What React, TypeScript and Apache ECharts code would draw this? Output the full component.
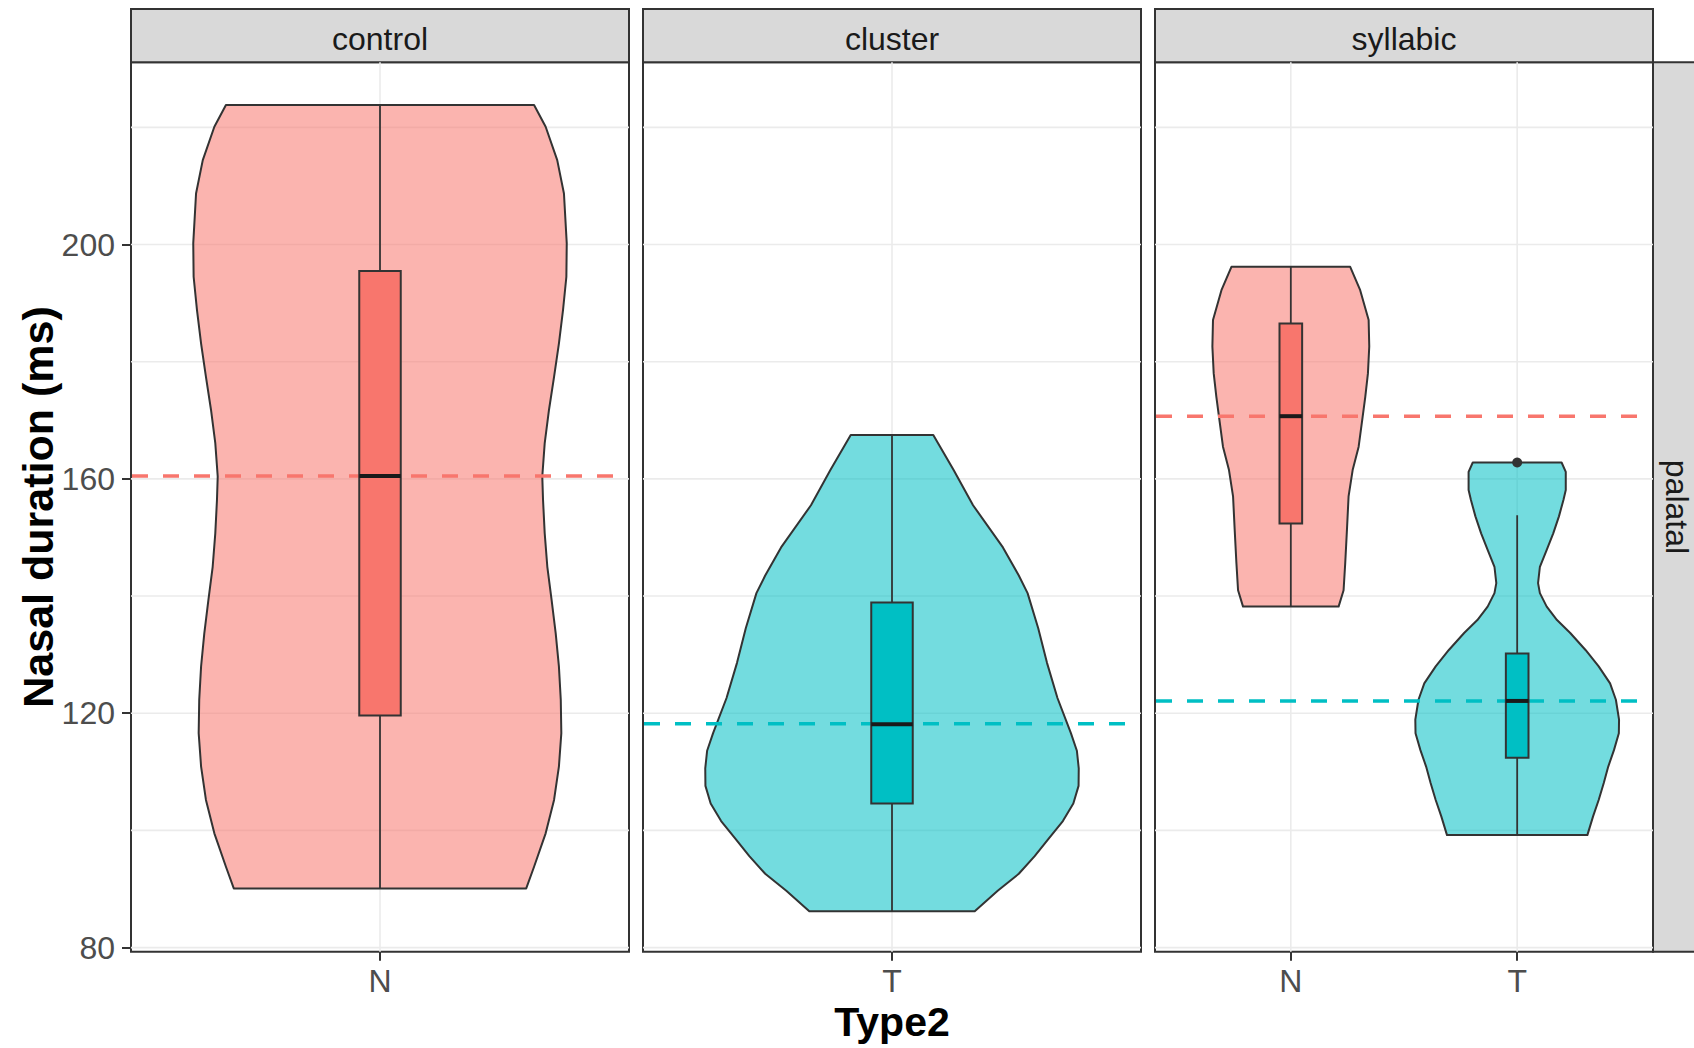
import React, { useEffect, useRef } from "react";
import * as echarts from "echarts";

// ---------- data ----------
const panelNames = ["control", "cluster", "syllabic"];
const rowName = "palatal";
const xTitle = "Type2";
const yTitle = "Nasal duration (ms)";
const yMajorTicks = [80, 120, 160, 200];
const yMinorTicks = [100, 140, 180, 220];
const yRange = [79.3, 231.1];
const panelCategories = [["N"], ["T"], ["N", "T"]];

// violin outlines: y values and relative half-widths (1 = widest violin)
const controlN_y = [223.8, 220.1, 214.4, 208.7, 200.2, 194.5, 188.8, 183.1, 177.4, 171.8, 166.1, 160.4, 156.4, 150.7, 145.0, 139.3, 133.6, 128.0, 122.3, 116.6, 110.9, 105.2, 99.5, 93.8, 90.1];
const controlN_w = [0.825, 0.887, 0.949, 0.985, 1.0, 0.998, 0.98, 0.958, 0.932, 0.905, 0.882, 0.869, 0.873, 0.882, 0.896, 0.919, 0.941, 0.958, 0.968, 0.971, 0.958, 0.932, 0.887, 0.825, 0.783];

const clusterT_y = [167.5, 161.5, 155.5, 148.3, 143.5, 140.5, 134.5, 128.6, 122.6, 116.6, 113.6, 110.6, 107.6, 104.6, 101.6, 98.6, 95.6, 92.6, 89.7, 86.2];
const clusterT_w = [0.221, 0.33, 0.434, 0.594, 0.679, 0.726, 0.783, 0.83, 0.886, 0.958, 0.99, 1.0, 0.999, 0.971, 0.915, 0.839, 0.764, 0.679, 0.566, 0.443];

const syllabicN_y = [196.2, 192.2, 187.1, 182.6, 178.0, 174.0, 170.6, 165.5, 161.5, 157.0, 151.3, 145.6, 141.0, 138.2];
const syllabicN_w = [0.583, 0.681, 0.764, 0.77, 0.757, 0.731, 0.705, 0.666, 0.607, 0.567, 0.551, 0.534, 0.518, 0.469];

const syllabicT_y = [162.8, 161.2, 158.1, 156.4, 153.6, 150.7, 147.9, 145.0, 142.2, 140.5, 138.2, 135.9, 133.7, 130.8, 128.0, 125.1, 122.3, 118.9, 116.6, 113.7, 110.9, 108.1, 105.2, 102.4, 99.2];
const syllabicT_w = [0.436, 0.477, 0.477, 0.454, 0.41, 0.354, 0.29, 0.223, 0.205, 0.223, 0.29, 0.391, 0.521, 0.671, 0.8, 0.912, 0.969, 1.0, 0.998, 0.95, 0.894, 0.85, 0.8, 0.745, 0.689];

// box stats: [lower whisker, q1, median, q3, upper whisker]
const controlN_box = [90.1, 119.6, 160.5, 195.5, 223.8];
const clusterT_box = [86.2, 104.6, 118.1, 138.9, 167.5];
const syllabicN_box = [138.2, 152.4, 170.7, 186.5, 196.2];
const syllabicT_box = [99.2, 112.4, 122.1, 130.2, 153.8];
const syllabicT_outliers = [162.8];

// group means (dashed lines), per panel
const meansN = [160.5, null, 170.7];
const meansT = [null, 118.2, 122.1];

const groupPanel = [0, 1, 2, 2];
const groupPos = [1, 1, 1, 2];
const groupType = ["N", "T", "N", "T"];
const groupViolinY = [controlN_y, clusterT_y, syllabicN_y, syllabicT_y];
const groupViolinW = [controlN_w, clusterT_w, syllabicN_w, syllabicT_w];
const groupBox = [controlN_box, clusterT_box, syllabicN_box, syllabicT_box];
const groupOutliers = [[], [], [], syllabicT_outliers];

// ---------- style ----------
const FONT = "'Liberation Sans', Arial, Helvetica, sans-serif";
const COL = { N: "#F8766D", T: "#00BFC4" };
const FILL = { N: "rgba(248,118,109,0.55)", T: "rgba(0,191,196,0.55)" };
const DARK = "#333333";
const GRIDC = "#EBEBEB";
const PANEL_LEFT = [131, 643, 1155];
const PANEL_W = 498;
const PANEL_TOP = 62.3;
const PANEL_H = 889.4;
const STRIP_TOP = 9;
const VIOLIN_HALF = 0.45;
const BOX_HALF = 0.05;

function App() {
  const ref = useRef<HTMLDivElement>(null);
  useEffect(() => {
    if (!ref.current) return;
    const chart = echarts.init(ref.current, null, { renderer: "svg" });

    const grids: any[] = [];
    const xAxes: any[] = [];
    const yAxes: any[] = [];
    const series: any[] = [];

    panelNames.forEach((name, p) => {
      const cats = panelCategories[p];
      const positions = cats.map((_, i) => i + 1);
      const xMin = 0.4;
      const xMax = cats.length + 0.6;
      grids.push({
        left: PANEL_LEFT[p],
        top: PANEL_TOP,
        width: PANEL_W,
        height: PANEL_H,
        show: true,
        backgroundColor: "#ffffff",
        borderColor: DARK,
        borderWidth: 2,
      });
      xAxes.push({
        type: "value",
        gridIndex: p,
        min: xMin,
        max: xMax,
        axisLine: { show: false },
        splitLine: { show: false },
        axisTick: { show: true, customValues: positions, length: 9, lineStyle: { color: DARK, width: 2 } },
        axisLabel: {
          show: true,
          customValues: positions,
          formatter: (v: number) => cats[Math.round(v) - 1] ?? "",
          fontSize: 32,
          color: "#4D4D4D",
          fontFamily: FONT,
          margin: 13,
        },
      });
      yAxes.push({
        type: "value",
        gridIndex: p,
        min: yRange[0],
        max: yRange[1],
        axisLine: { show: false },
        splitLine: { show: false },
        axisTick: { show: p === 0, customValues: yMajorTicks, length: 9, lineStyle: { color: DARK, width: 2 } },
        axisLabel: {
          show: p === 0,
          customValues: yMajorTicks,
          fontSize: 32,
          color: "#4D4D4D",
          fontFamily: FONT,
          margin: 16,
        },
      });

      // grid lines
      series.push({
        type: "custom",
        xAxisIndex: p,
        yAxisIndex: p,
        z: 1,
        silent: true,
        data: [[1, 100]],
        renderItem: (_params: any, api: any) => {
          const children: any[] = [];
          [...yMinorTicks, ...yMajorTicks].forEach((v) => {
            const a = api.coord([xMin, v]);
            const b = api.coord([xMax, v]);
            children.push({ type: "line", shape: { x1: a[0], y1: a[1], x2: b[0], y2: b[1] }, style: { stroke: GRIDC, lineWidth: 1.6 } });
          });
          positions.forEach((x) => {
            const a = api.coord([x, yRange[0]]);
            const b = api.coord([x, yRange[1]]);
            children.push({ type: "line", shape: { x1: a[0], y1: a[1], x2: b[0], y2: b[1] }, style: { stroke: GRIDC, lineWidth: 1.6 } });
          });
          return { type: "group", children };
        },
      });
    });

    // violins
    groupPanel.forEach((p, g) => {
      const pos = groupPos[g];
      const t = groupType[g] as "N" | "T";
      const vy = groupViolinY[g];
      const vw = groupViolinW[g];
      const box = groupBox[g];
      series.push({
        type: "custom",
        xAxisIndex: p,
        yAxisIndex: p,
        z: 2,
        silent: true,
        data: [[pos, box[2]]],
        renderItem: (_params: any, api: any) => {
          const pts: number[][] = [];
          for (let i = 0; i < vy.length; i++) pts.push(api.coord([pos - vw[i] * VIOLIN_HALF, vy[i]]));
          for (let i = vy.length - 1; i >= 0; i--) pts.push(api.coord([pos + vw[i] * VIOLIN_HALF, vy[i]]));
          return {
            type: "polygon",
            shape: { points: pts },
            style: { fill: FILL[t], stroke: DARK, lineWidth: 2, lineJoin: "round" },
          };
        },
      });
    });

    // mean dashed lines
    panelNames.forEach((_, p) => {
      const xMin = 0.4;
      const xMax = panelCategories[p].length + 0.6;
      const lines: { v: number; c: string }[] = [];
      if (meansN[p] != null) lines.push({ v: meansN[p] as number, c: COL.N });
      if (meansT[p] != null) lines.push({ v: meansT[p] as number, c: COL.T });
      series.push({
        type: "custom",
        xAxisIndex: p,
        yAxisIndex: p,
        z: 3,
        silent: true,
        data: [[1, 100]],
        renderItem: (_params: any, api: any) => ({
          type: "group",
          children: lines.map((l) => {
            const a = api.coord([xMin, l.v]);
            const b = api.coord([xMax, l.v]);
            return {
              type: "line",
              shape: { x1: a[0] + 1, y1: a[1], x2: b[0] - 1, y2: b[1] },
              style: { stroke: l.c, lineWidth: 3.5, lineDash: [16, 15] },
            };
          }),
        }),
      });
    });

    // boxplots
    groupPanel.forEach((p, g) => {
      const pos = groupPos[g];
      const t = groupType[g] as "N" | "T";
      const box = groupBox[g];
      const outs = groupOutliers[g];
      series.push({
        type: "custom",
        xAxisIndex: p,
        yAxisIndex: p,
        z: 4,
        silent: true,
        data: [[pos, box[2]]],
        renderItem: (_params: any, api: any) => {
          const lo = api.coord([pos, box[0]]);
          const hi = api.coord([pos, box[4]]);
          const q3 = api.coord([pos - BOX_HALF, box[3]]);
          const q1 = api.coord([pos + BOX_HALF, box[1]]);
          const mL = api.coord([pos - BOX_HALF, box[2]]);
          const mR = api.coord([pos + BOX_HALF, box[2]]);
          const children: any[] = [
            { type: "line", shape: { x1: lo[0], y1: lo[1], x2: hi[0], y2: hi[1] }, style: { stroke: DARK, lineWidth: 1.8 } },
            {
              type: "rect",
              shape: { x: q3[0], y: q3[1], width: q1[0] - q3[0], height: q1[1] - q3[1] },
              style: { fill: COL[t], stroke: DARK, lineWidth: 2 },
            },
            { type: "line", shape: { x1: mL[0], y1: mL[1], x2: mR[0], y2: mR[1] }, style: { stroke: "#1A1A1A", lineWidth: 4 } },
          ];
          outs.forEach((o) => {
            const c = api.coord([pos, o]);
            children.push({ type: "circle", shape: { cx: c[0], cy: c[1], r: 5 }, style: { fill: DARK } });
          });
          return { type: "group", children };
        },
      });
    });

    // strips and titles
    const graphic: any[] = [];
    panelNames.forEach((name, p) => {
      graphic.push({
        type: "rect",
        shape: { x: PANEL_LEFT[p], y: STRIP_TOP, width: PANEL_W, height: PANEL_TOP - STRIP_TOP },
        style: { fill: "#D9D9D9", stroke: DARK, lineWidth: 2 },
        silent: true,
      });
      graphic.push({
        type: "text",
        x: PANEL_LEFT[p] + PANEL_W / 2,
        y: (STRIP_TOP + PANEL_TOP) / 2 + 3,
        style: { text: name, fontSize: 32, fontFamily: FONT, fill: "#1A1A1A", align: "center", verticalAlign: "middle" },
        silent: true,
      });
    });
    const rightX = PANEL_LEFT[2] + PANEL_W;
    graphic.push({
      type: "rect",
      shape: { x: rightX, y: PANEL_TOP, width: PANEL_TOP - STRIP_TOP, height: PANEL_H },
      style: { fill: "#D9D9D9", stroke: DARK, lineWidth: 2 },
      silent: true,
    });
    graphic.push({
      type: "text",
      x: rightX + 24,
      y: PANEL_TOP + PANEL_H / 2,
      rotation: -Math.PI / 2,
      style: { text: rowName, fontSize: 32, fontFamily: FONT, fill: "#1A1A1A", align: "center", verticalAlign: "middle" },
      silent: true,
    });
    graphic.push({
      type: "text",
      x: PANEL_LEFT[0] + (PANEL_LEFT[2] + PANEL_W - PANEL_LEFT[0]) / 2,
      y: 1022,
      style: { text: xTitle, fontSize: 41, fontWeight: "bold", fontFamily: FONT, fill: "#000000", align: "center", verticalAlign: "middle" },
      silent: true,
    });
    graphic.push({
      type: "text",
      x: 38,
      y: PANEL_TOP + PANEL_H / 2,
      rotation: Math.PI / 2,
      style: { text: yTitle, fontSize: 43, fontWeight: "bold", fontFamily: FONT, fill: "#000000", align: "center", verticalAlign: "middle" },
      silent: true,
    });

    chart.setOption({
      animation: false,
      backgroundColor: "#ffffff",
      grid: grids,
      xAxis: xAxes,
      yAxis: yAxes,
      series,
      graphic,
    });
    return () => chart.dispose();
  }, []);
  return <div ref={ref} style={{ position: "fixed", left: 0, top: 0, width: 1694, height: 1048 }} />;
}

export default App;
